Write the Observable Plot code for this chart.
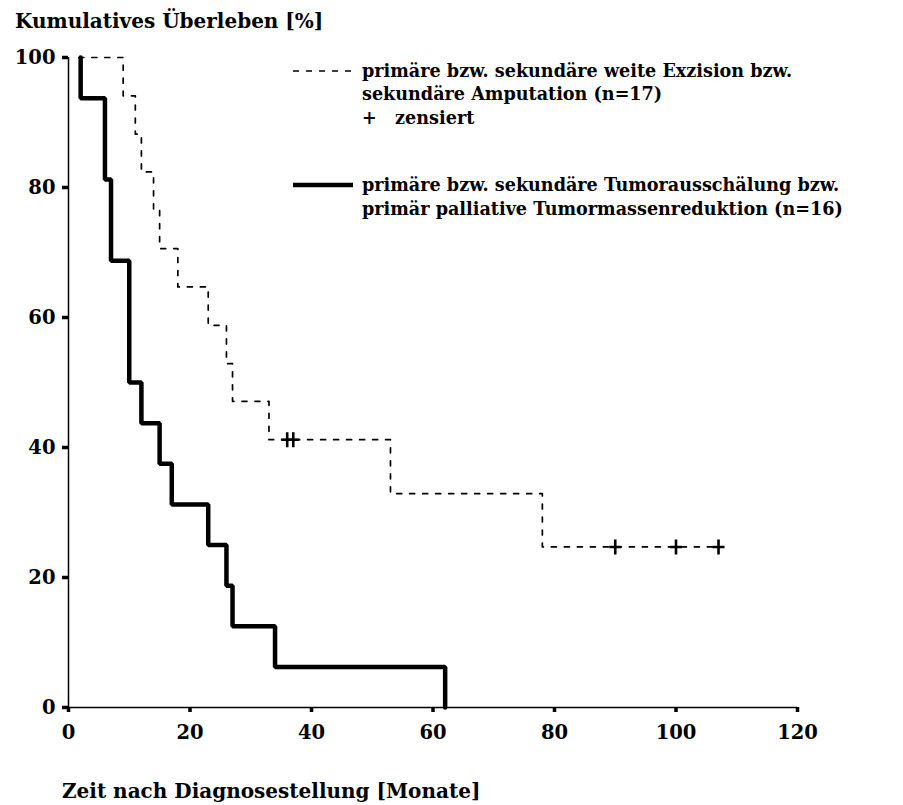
<!DOCTYPE html>
<html><head><meta charset="utf-8">
<script src="https://cdn.jsdelivr.net/npm/d3@7"></script>
<script src="https://cdn.jsdelivr.net/npm/@observablehq/plot@0.6"></script>
<style>
body{margin:0;background:#fff;}
#wrap{position:relative;width:903px;height:805px;}
</style></head><body><div id="wrap"></div>
<script>
// ---- text ----
const yTitle = "Kumulatives Überleben [%]";
const xTitle = "Zeit nach Diagnosestellung [Monate]";
const xTicks = [0, 20, 40, 60, 80, 100, 120];
const yTicks = [0, 20, 40, 60, 80, 100];
const excisionLabel = ["primäre bzw. sekundäre weite Exzision bzw.", "sekundäre Amputation (n=17)"];
const censoredLabel = "+   zensiert";
const shellingLabel = ["primäre bzw. sekundäre Tumorausschälung bzw.", "primär palliative Tumormassenreduktion (n=16)"];

// ---- data (months, cumulative survival %) ----
const excisionMonths   = [1.7, 9, 11, 12, 14, 15, 18, 23, 26, 27, 33, 53, 78, 107];
const excisionSurvival = [100, 94.1, 88.2, 82.4, 76.5, 70.6, 64.7, 58.8, 52.9, 47.1, 41.2, 32.9, 24.7, 24.7];
const censoredMonths   = [36, 37, 90, 100, 107];
const censoredSurvival = [41.2, 41.2, 24.7, 24.7, 24.7];
const shellingMonths   = [2, 2, 6, 7, 10, 12, 15, 17, 23, 26, 27, 34, 62];
const shellingSurvival = [100, 93.75, 81.25, 68.75, 50, 43.75, 37.5, 31.25, 25, 18.75, 12.5, 6.25, 0];

const excision = excisionMonths.map((m, i) => ({m, s: excisionSurvival[i]}));
const censored = censoredMonths.map((m, i) => ({m, s: censoredSurvival[i]}));
const shelling = shellingMonths.map((m, i) => ({m, s: shellingSurvival[i]}));

const FONT = "DejaVu Serif";
const FS_AXIS = 19.5;
const FS_TITLE = 20;
const FS_LEGEND = 17.6;

const thinPlus = {
  draw(ctx, size) {
    const r = Math.sqrt(size / Math.PI);
    ctx.moveTo(-r * 0.8, 0); ctx.lineTo(r * 0.8, 0);
    ctx.moveTo(0, -r); ctx.lineTo(0, r);
  }
};

const chart = Plot.plot({
  width: 903, height: 805,
  marginLeft: 68, marginRight: 106, marginTop: 57, marginBottom: 98,
  x: {domain: [0, 120]},
  y: {domain: [0, 100]},
  style: {fontFamily: FONT, fontWeight: "bold", fontSize: FS_AXIS + "px", color: "black", background: "white"},
  marks: [
    Plot.axisY({ticks: yTicks, tickSize: 6, tickPadding: 7, strokeWidth: 3.5, label: null, fontSize: FS_AXIS, fontWeight: "bold"}),
    Plot.axisX({ticks: xTicks, tickSize: 5, tickPadding: 13, strokeWidth: 3.5, label: null, fontSize: FS_AXIS, fontWeight: "bold"}),
    Plot.ruleX([0], {stroke: "black", strokeWidth: 1.5}),
    Plot.ruleY([0], {stroke: "black", strokeWidth: 1.5}),
    Plot.line(excision, {x: "m", y: "s", curve: "step-after", stroke: "black", strokeWidth: 1.7, strokeDasharray: "5,8"}),
    Plot.line(shelling, {x: "m", y: "s", curve: "step-after", stroke: "black", strokeWidth: 4.5, strokeLinejoin: "miter"}),
    Plot.dot(censored, {x: "m", y: "s", symbol: thinPlus, r: 7.5, stroke: "black", strokeWidth: 2.6, fill: "none"})
  ]
});

const svg = d3.select(chart);
const addText = (x, y, t, fs) => svg.append("text").attr("x", x).attr("y", y)
  .attr("text-anchor", "start")
  .attr("font-family", FONT).attr("font-weight", "bold").attr("font-size", fs).attr("fill", "black").text(t);

addText(15, 28, yTitle, FS_TITLE);
addText(62, 798, xTitle, FS_TITLE);

// legend
svg.append("line").attr("x1", 293).attr("x2", 354).attr("y1", 71).attr("y2", 71)
  .attr("stroke", "black").attr("stroke-width", 1.7).attr("stroke-dasharray", "6,7");
addText(362, 77, excisionLabel[0], FS_LEGEND);
addText(362, 100, excisionLabel[1], FS_LEGEND);
addText(362, 124, censoredLabel, FS_LEGEND);
svg.append("line").attr("x1", 293).attr("x2", 353).attr("y1", 185).attr("y2", 185)
  .attr("stroke", "black").attr("stroke-width", 4.5);
addText(362, 191, shellingLabel[0], FS_LEGEND);
addText(362, 215, shellingLabel[1], FS_LEGEND);

document.getElementById("wrap").appendChild(chart);
</script>
</body></html>
